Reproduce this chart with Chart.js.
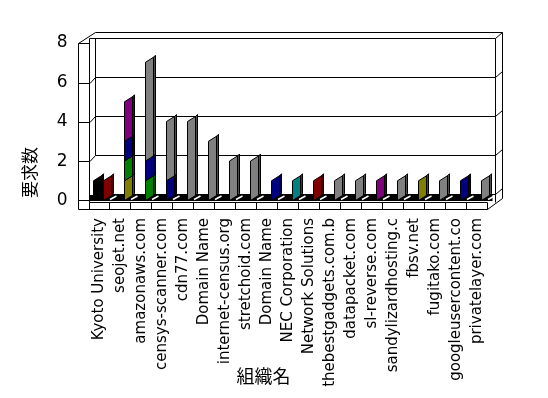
<!DOCTYPE html>
<html>
<head>
<meta charset="utf-8">
<script src="https://cdn.jsdelivr.net/npm/chart.js@4"></script>
<style>
  html, body { margin: 0; padding: 0; background: #fff; }
  canvas { display: block; }
</style>
</head>
<body>
<canvas id="chart" width="548" height="398"></canvas>
<script>
const categories = [
  'Kyoto University', 'seojet.net', 'amazonaws.com', 'censys-scanner.com', 'cdn77.com',
  'Domain Name', 'internet-census.org', 'stretchoid.com', 'Domain Name', 'NEC Corporation',
  'Network Solutions', 'thebestgadgets.com.b', 'datapacket.com', 'sl-reverse.com',
  'sandylizardhosting.c', 'fbsv.net', 'fugitako.com', 'googleusercontent.co', 'privatelayer.com'
];
// one array per colour in the picture (no legend), index = category
const seriesBlack  = [1, 0, 0, 0, 0, 0, 0, 0, 0, 0, 0, 0, 0, 0, 0, 0, 0, 0, 0];
const seriesOlive  = [0, 1, 0, 0, 0, 0, 0, 0, 0, 0, 0, 0, 0, 0, 0, 1, 0, 0, 0];
const seriesGreen  = [0, 1, 1, 0, 0, 0, 0, 0, 0, 0, 0, 0, 0, 0, 0, 0, 0, 0, 0];
const seriesBlue   = [0, 1, 1, 1, 0, 0, 0, 0, 1, 0, 0, 0, 0, 0, 0, 0, 0, 1, 0];
const seriesPurple = [0, 2, 0, 0, 0, 0, 0, 0, 0, 0, 0, 0, 0, 1, 0, 0, 0, 0, 0];
const seriesTeal   = [0, 0, 0, 0, 0, 0, 0, 0, 0, 1, 0, 0, 0, 0, 0, 0, 0, 0, 0];
const seriesRed    = [1, 0, 0, 0, 0, 0, 0, 0, 0, 0, 1, 0, 0, 0, 0, 0, 0, 0, 0];
const seriesGray   = [0, 0, 5, 3, 4, 3, 2, 2, 0, 0, 0, 1, 1, 0, 1, 0, 1, 0, 1];
const yTicks = [0, 2, 4, 6, 8];

function shade(hex, f) {
  const n = parseInt(hex.slice(1), 16);
  const r = Math.round(((n >> 16) & 255) * f), g = Math.round(((n >> 8) & 255) * f), b = Math.round((n & 255) * f);
  return `rgb(${r},${g},${b})`;
}

function line(ctx, pts) {
  ctx.beginPath();
  ctx.moveTo(pts[0][0], pts[0][1]);
  for (let i = 1; i < pts.length; i++) ctx.lineTo(pts[i][0], pts[i][1]);
  ctx.stroke();
}

// walls, floor and grid of the excel-like 3d box
const frame3d = {
  id: 'frame3d',
  beforeDatasetsDraw(chart) {
    const { ctx, chartArea: a, scales: { x, y } } = chart;
    const px = v => Math.round(v) + 0.5;
    const base = y.getPixelForValue(0);
    const gy = v => px(base - 4 - (base - y.getPixelForValue(v)) * 0.987);
    const backL = px(a.left + 3.5), backR = px(a.right + 4.5);
    const innerL = px(a.left - 3), slabL = px(a.left - 14);
    const dx = 7, dy = 6;
    const top = gy(8);
    const frontTop = px(base + 3.5), frontBot = px(base + 10.5);
    const lastC = x.getPixelForValue(categories.length - 1);
    const frontR = px(lastC + 7);

    ctx.save();
    ctx.strokeStyle = '#000';
    ctx.lineWidth = 1;

    // floor (black top)
    ctx.fillStyle = '#000';
    ctx.fillRect(innerL, base - 3, backR - 3 - innerL, 6);

    // top slab
    line(ctx, [[backL, top - dy], [backR + dx, top - dy]]);
    line(ctx, [[innerL, top], [backR, top]]);
    line(ctx, [[backR, top], [backR + dx, top - dy]]);
    line(ctx, [[slabL, top + 5], [backL, top - dy]]);
    line(ctx, [[slabL, top + 5], [innerL, top + 5]]);

    // verticals
    line(ctx, [[slabL, top + 5], [slabL, frontBot]]);
    line(ctx, [[innerL, top], [innerL, frontTop]]);
    line(ctx, [[backR, top], [backR, frontTop]]);
    line(ctx, [[backR + dx, top - dy], [backR + dx, base + 0.5]]);
    line(ctx, [[backL, top], [backL, gy(2)]]);

    // grid lines on back wall with stubs on the side walls
    yTicks.filter(v => v < 8).forEach(v => {
      const g = gy(v);
      line(ctx, [[slabL, g + 6], [innerL + 0.5, g + 6], [backL, g], [backR, g], [backR + dx, g - dy]]);
    });

    // front edge of the floor with category dividers
    line(ctx, [[innerL, frontTop], [frontR, frontTop]]);
    line(ctx, [[slabL, frontBot], [frontR, frontBot]]);
    line(ctx, [[frontR, frontBot], [backR + dx, base + 0.5]]);
    line(ctx, [[innerL, frontTop], [innerL, frontBot]]);
    categories.forEach((c, i) => {
      const xd = px(x.getPixelForValue(i) + 7);
      line(ctx, [[xd, frontTop], [xd, frontBot]]);
    });

    // white marks on the floor
    ctx.strokeStyle = '#fff';
    ctx.lineWidth = 1.5;
    categories.forEach((c, i) => {
      const xc = x.getPixelForValue(i);
      line(ctx, [[xc + 8, base + 1.5], [xc + 14.5, base - 2]]);
    });
    ctx.restore();
  }
};

// draws each bar segment as a slanted 3d column
const bars3d = {
  id: 'bars3d',
  beforeDatasetDraw() { return false; },
  afterDatasetsDraw(chart) {
    const ctx = chart.ctx;
    const ds = chart.data.datasets;
    const order = ds.map((d, k) => k).sort((p, q) => (ds[p].stack === 'front') - (ds[q].stack === 'front'));
    ctx.save();
    ctx.lineWidth = 1;
    ctx.strokeStyle = '#000';
    ctx.lineJoin = 'miter';
    for (let i = 0; i < categories.length; i++) {
      order.forEach(d => {
        if (!ds[d].data[i]) return;
        const el = chart.getDatasetMeta(d).data[i];
        const x0 = Math.round(el.x - el.width / 2) + 0.5, x1 = Math.round(el.x + el.width / 2) + 0.5;
        const yT = el.y, yB = el.base, s = 2.5, sw = 2;
        const col = ds[d].backgroundColor;
        // side
        ctx.fillStyle = shade(col, 0.6);
        ctx.beginPath();
        ctx.moveTo(x1, yT - s); ctx.lineTo(x1 + sw, yT - s - 2); ctx.lineTo(x1 + sw, yB - s - 2); ctx.lineTo(x1, yB - s);
        ctx.closePath(); ctx.fill(); ctx.stroke();
        // face
        ctx.fillStyle = col;
        ctx.beginPath();
        ctx.moveTo(x0, yT + s); ctx.lineTo(x1, yT - s); ctx.lineTo(x1, yB - s); ctx.lineTo(x0, yB + s);
        ctx.closePath(); ctx.fill(); ctx.stroke();
      });
    }
    ctx.restore();
  }
};

const xTitle = {
  id: 'xTitle',
  afterDraw(chart) {
    const { ctx, chartArea: a } = chart;
    ctx.save();
    ctx.fillStyle = '#000';
    ctx.font = '18px "Noto Sans CJK JP"';
    ctx.textAlign = 'center';
    ctx.textBaseline = 'middle';
    ctx.fillText('組織名', a.left + 172, 376);
    ctx.restore();
  }
};

const mk = (data, color, stack) => ({ data, backgroundColor: color, stack: stack || 'main', borderWidth: 0 });

new Chart(document.getElementById('chart'), {
  type: 'bar',
  data: {
    labels: categories,
    datasets: [
      mk(seriesBlack, '#000000', 'front'),
      mk(seriesOlive, '#808000'),
      mk(seriesGreen, '#008000'),
      mk(seriesBlue, '#000080'),
      mk(seriesPurple, '#800080'),
      mk(seriesTeal, '#008080'),
      mk(seriesRed, '#800000'),
      mk(seriesGray, '#808080')
    ]
  },
  options: {
    responsive: false,
    animation: false,
    categoryPercentage: 0.9,
    barPercentage: 0.85,
    layout: { padding: { top: 40, right: 57.5, left: 0, bottom: 0 } },
    plugins: { legend: { display: false }, tooltip: { enabled: false } },
    scales: {
      x: {
        stacked: true,
        grid: { display: false, drawTicks: false },
        border: { display: false },
        ticks: {
          autoSkip: false, maxRotation: 90, minRotation: 90, padding: 20, labelOffset: -3,
          color: '#000', font: { family: 'DejaVu Sans', size: 15 }
        },
        afterFit: s => { s.height = 200; }
      },
      y: {
        stacked: true,
        min: 0,
        max: 8,
        grid: { display: false, drawTicks: false },
        border: { display: false },
        ticks: {
          stepSize: 2, padding: 24, labelOffset: 3,
          color: '#000', font: { family: 'DejaVu Sans', size: 17 }
        },
        title: {
          display: true, text: '要求数', align: 'start', padding: { top: 19, bottom: 0 },
          color: '#000', font: { family: 'Noto Sans CJK JP', size: 17 }
        },
        afterFit: s => { s.width = 91.5; }
      }
    }
  },
  plugins: [frame3d, bars3d, xTitle]
});
</script>
</body>
</html>
